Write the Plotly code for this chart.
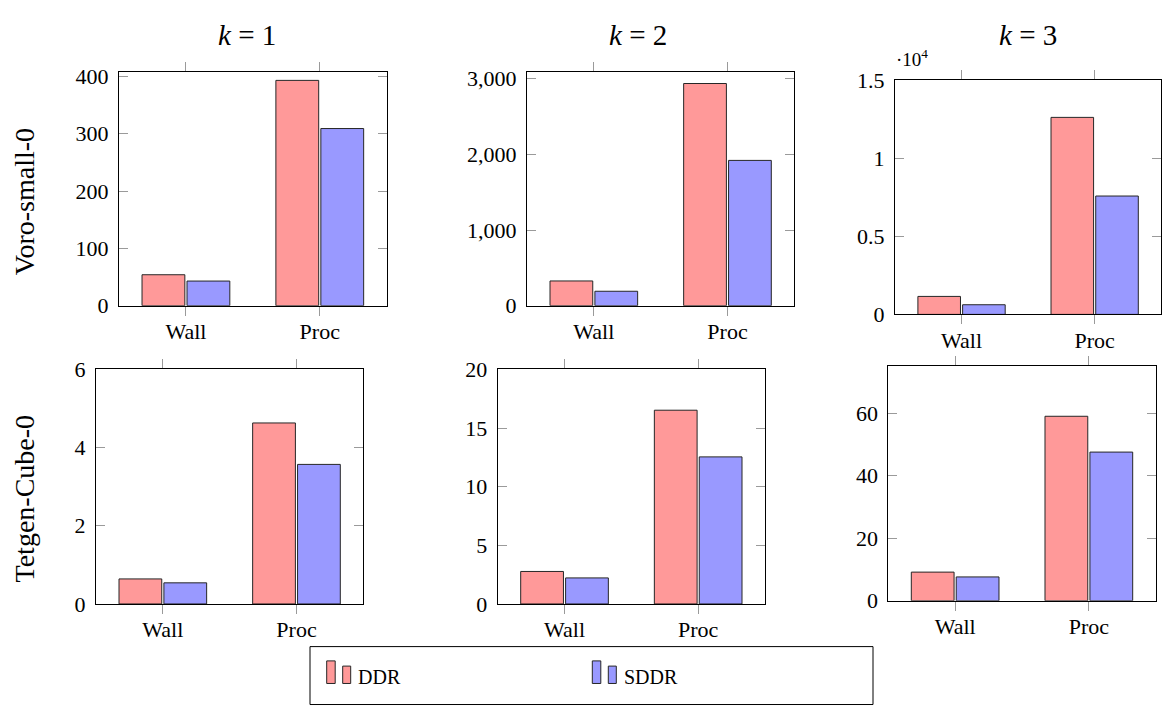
import plotly.graph_objects as go

# ---------------- data ----------------
categories = ["Wall", "Proc"]
series_names = ["DDR", "SDDR"]
col_titles = ["<i>k</i> = 1", "<i>k</i> = 2", "<i>k</i> = 3"]
row_labels = ["Voro-small-0", "Tetgen-Cube-0"]

voro_k1_ddr = [54, 393]
voro_k1_sddr = [43, 309]
voro_k2_ddr = [327, 2936]
voro_k2_sddr = [191, 1920]
voro_k3_ddr = [1150, 12600]
voro_k3_sddr = [617, 7570]
tet_k1_ddr = [0.64, 4.63]
tet_k1_sddr = [0.54, 3.57]
tet_k2_ddr = [2.77, 16.52]
tet_k2_sddr = [2.22, 12.54]
tet_k3_ddr = [9.16, 59.0]
tet_k3_sddr = [7.62, 47.55]

ticks_voro_k1 = [0, 100, 200, 300, 400]
ticks_voro_k2 = [0, 1000, 2000, 3000]
ticks_voro_k3 = [0, 5000, 10000, 15000]
ticktext_voro_k3 = ["0", "0.5", "1", "1.5"]
ticks_tet_k1 = [0, 2, 4, 6]
ticks_tet_k2 = [0, 5, 10, 15, 20]
ticks_tet_k3 = [0, 20, 40, 60]

# ---------------- styling ----------------
W, H = 1162, 718
FONT = "Liberation Serif"
COL_DDR = "#FF9999"
COL_SDDR = "#9999FF"
EDGE = "#262626"
TICKC = "#9a9a9a"

def px_x(v):
    return v / W

def px_y(v):
    return 1 - v / H

# panel: (ddr, sddr, left, right, top, bottom, yrange, tickvals, ticktext, tickformat)
panels = [
    (voro_k1_ddr, voro_k1_sddr, 119, 386.7, 61.7, 304.3, [0, 408.4], ticks_voro_k1, None, ""),
    (voro_k2_ddr, voro_k2_sddr, 527, 794.3, 61.7, 304.3, [0, 3094], ticks_voro_k2, None, ","),
    (voro_k3_ddr, voro_k3_sddr, 895, 1161.2, 70.3, 313.3, [0, 15000], ticks_voro_k3, ticktext_voro_k3, ""),
    (tet_k1_ddr, tet_k1_sddr, 96, 363.3, 370.3, 613.3, [0, 6], ticks_tet_k1, None, ""),
    (tet_k2_ddr, tet_k2_sddr, 497.7, 765, 370.3, 613.3, [0, 20], ticks_tet_k2, None, ""),
    (tet_k3_ddr, tet_k3_sddr, 888.3, 1155.7, 366.7, 610, [0, 75.1], ticks_tet_k3, None, ""),
]

fig = go.Figure()
layout = {}
for i, (ddr, sddr, l, r, t, b, yr, tv, tt, tf) in enumerate(panels, start=1):
    xa = "x" if i == 1 else f"x{i}"
    ya = "y" if i == 1 else f"y{i}"
    for name, vals, col in ((series_names[0], ddr, COL_DDR), (series_names[1], sddr, COL_SDDR)):
        fig.add_trace(go.Bar(
            x=categories, y=vals, name=name, xaxis=xa, yaxis=ya,
            marker=dict(color=col, line=dict(color=EDGE, width=1)),
            showlegend=False, hoverinfo="x+y+name",
        ))
    xkey = "xaxis" if i == 1 else f"xaxis{i}"
    ykey = "yaxis" if i == 1 else f"yaxis{i}"
    layout[xkey] = dict(
        domain=[px_x(l), px_x(r)], anchor=ya, type="category",
        range=[-0.5, 1.5], showline=True, linecolor="black", linewidth=1,
        mirror="ticks", ticks="outside", ticklen=9, tickwidth=1, tickcolor=TICKC,
        showgrid=False, zeroline=False, fixedrange=True,
        tickfont=dict(family=FONT, size=22, color="black"),
        ticklabelstandoff=-3,
    )
    ydict = dict(
        domain=[px_y(b), px_y(t)], anchor=xa, range=yr,
        showline=True, linecolor="black", linewidth=1,
        mirror="ticks", ticks="inside", ticklen=9, tickwidth=1, tickcolor=TICKC,
        showgrid=False, zeroline=False, fixedrange=True,
        tickvals=tv, tickformat=tf,
        tickfont=dict(family=FONT, size=22, color="black"),
        ticklabelstandoff=5,
    )
    if tt is not None:
        ydict["ticktext"] = tt
    layout[ykey] = ydict

annotations = []
# column titles
for txt, cx, cy in zip(col_titles, [247, 637.5, 1028], [24, 24, 23.5]):
    annotations.append(dict(text=txt, x=px_x(cx), y=px_y(cy), xref="paper", yref="paper",
                            xanchor="center", yanchor="middle", showarrow=False,
                            font=dict(family=FONT, size=29, color="black")))
# row labels
for txt, cy in zip(row_labels, [197, 504]):
    annotations.append(dict(text=txt, x=px_x(24), y=px_y(cy), xref="paper", yref="paper",
                            xanchor="center", yanchor="middle", showarrow=False, textangle=-90,
                            font=dict(family=FONT, size=28, color="black")))
# scale multiplier for k=3 top panel
annotations.append(dict(text="·10<sup>4</sup>", x=px_x(894), y=px_y(62), xref="paper", yref="paper",
                        xanchor="left", yanchor="bottom", showarrow=False,
                        font=dict(family=FONT, size=19, color="black")))

# custom legend
shapes = [dict(type="rect", xref="paper", yref="paper",
               x0=px_x(310), x1=px_x(873), y0=px_y(717.5), y1=px_y(657.5),
               line=dict(color="black", width=1), fillcolor="rgba(0,0,0,0)")]
legend_items = [(series_names[0], COL_DDR, 326.7, 356), (series_names[1], COL_SDDR, 592.3, 622)]
for name, col, x0, tx in legend_items:
    shapes.append(dict(type="rect", xref="paper", yref="paper",
                       x0=px_x(x0), x1=px_x(x0 + 8.5), y0=px_y(695.7), y1=px_y(672.3),
                       line=dict(color=EDGE, width=1), fillcolor=col))
    shapes.append(dict(type="rect", xref="paper", yref="paper",
                       x0=px_x(x0 + 16), x1=px_x(x0 + 24), y0=px_y(695.7), y1=px_y(677.7),
                       line=dict(color=EDGE, width=1), fillcolor=col))
    annotations.append(dict(text=name, x=px_x(tx), y=px_y(689), xref="paper", yref="paper",
                            xanchor="left", yanchor="middle", showarrow=False,
                            font=dict(family=FONT, size=20, color="black")))

fig.update_layout(
    width=W, height=H, autosize=False,
    margin=dict(l=0, r=0, t=0, b=0, pad=0),
    paper_bgcolor="white", plot_bgcolor="white",
    barmode="group", bargap=0.328, bargroupgap=0.048,
    showlegend=False,
    annotations=annotations, shapes=shapes,
    **layout,
)

fig.write_html("out.html", config={"displayModeBar": False},
               post_script="document.body.style.margin='0';document.body.style.overflow='hidden';")
